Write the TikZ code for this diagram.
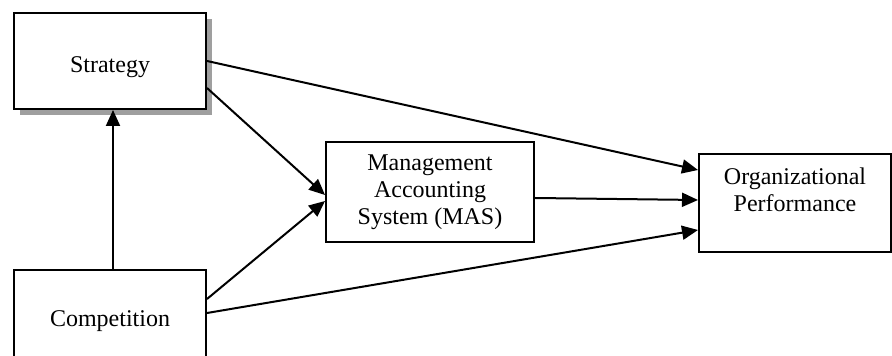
\documentclass[tikz,border=0pt]{standalone}
\usepackage{fontspec}
\setmainfont{Liberation Serif}
\usetikzlibrary{arrows.meta,shadows}
\begin{document}
\begin{tikzpicture}[x=0.5pt,y=-0.5pt,
		every node/.style={font=\fontsize{12}{13.5}\selectfont, align=center},
		factor/.style={draw, line width=1pt, fill=white, inner sep=0pt},
		link/.style={-{Triangle[length=8pt,width=7pt]}, line width=1pt}]
			\useasboundingbox (0,0) rectangle (892,356);
			\node[factor, minimum width=96pt, minimum height=48pt, text height=11.5pt, text depth=0pt,
				drop shadow={shadow xshift=3pt, shadow yshift=-3pt, fill=gray!75, opacity=1}]
				(strat) at (110,61)  {Strategy};
			\node[factor, minimum width=96pt, minimum height=51pt] (comp) at (110,321) {Competition};
			\node[factor, minimum width=104pt, minimum height=50pt] (mas) at (430,192)
				{Management\\Accounting\\System (MAS)};
			\node[factor, minimum width=96pt, minimum height=49pt] (org) at (795,203)
				{Organizational\\Performance\\~};
			
			\draw[link] ([xshift=1.5pt]comp.north) -- ([xshift=1.5pt]strat.south);
			\def\list {strat/0/org/16.5, strat/-13.5/mas/-1.5, comp/11/mas/-4.5, comp/4/org/-13.5, mas/-3/org/1.5}  % from east side to west side
			\foreach \u/\du/\v/\dv in \list
			{	\draw[link] ([yshift=\du pt]\u.east) -- ([yshift=\dv pt]\v.west);
			}
\end{tikzpicture}
\end{document}
